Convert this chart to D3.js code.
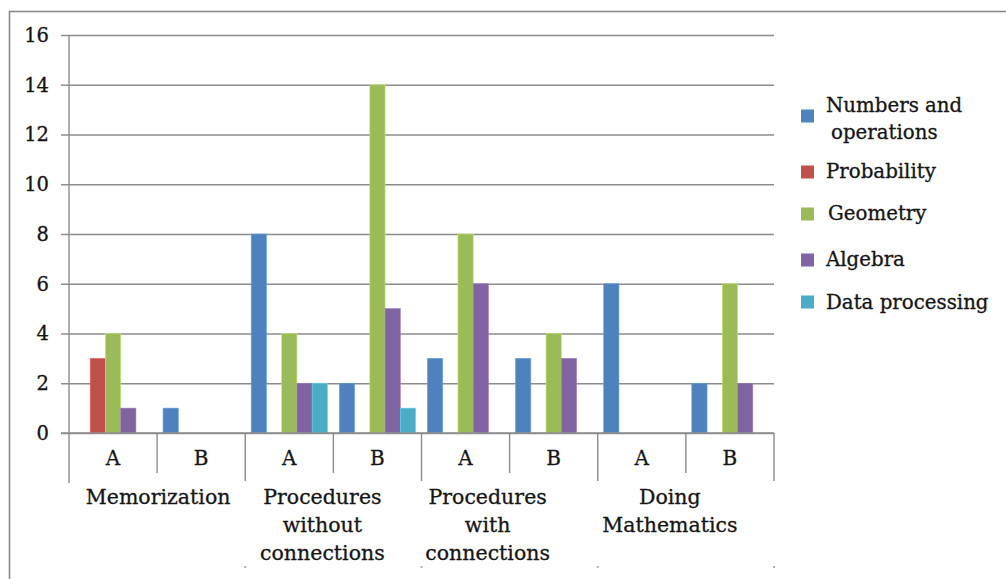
<!DOCTYPE html>
<html>
<head>
<meta charset="utf-8">
<script src="https://cdn.jsdelivr.net/npm/d3@7"></script>
<style>
  html, body { margin: 0; padding: 0; background: #fff; }
  svg { display: block; }
  text { font-family: "DejaVu Serif", "Liberation Serif", serif; fill: #151515; stroke: #151515; stroke-width: 0.3px; }
</style>
</head>
<body>
<svg id="chart" width="1006" height="579"></svg>
<script>
// Cognitive demand levels, each split into two sub-groups (A / B)
const groups = ["Memorization", "Procedures without connections", "Procedures with connections", "Doing Mathematics"];
const groupLines = [["Memorization"], ["Procedures", "without", "connections"], ["Procedures", "with", "connections"], ["Doing", "Mathematics"]];
const subGroups = ["A", "B"];

// Content domains (one bar per domain in every sub-group)
const seriesNames = ["Numbers and operations", "Probability", "Geometry", "Algebra", "Data processing"];
const seriesColors = ["#4F81BD", "#C0504D", "#9BBB59", "#8064A2", "#4BACC6"];

// Values in order: Memorization A, B; Procedures w/o A, B; Procedures with A, B; Doing Math A, B
const numbersOps     = [0, 1, 8, 2, 3, 3, 6, 2];
const probability    = [3, 0, 0, 0, 0, 0, 0, 0];
const geometry       = [4, 0, 4, 14, 8, 4, 0, 6];
const algebra        = [1, 0, 2, 5, 6, 3, 0, 2];
const dataProcessing = [0, 0, 2, 1, 0, 0, 0, 0];
const seriesValues = [numbersOps, probability, geometry, algebra, dataProcessing];

const yTicks = [0, 2, 4, 6, 8, 10, 12, 14, 16];

const svg = d3.select("#chart");
const plot = { left: 69, right: 774, top: 35, bottom: 433 };
const gridColor = "#8c8c8c";

// Outer chart frame (runs off the right and bottom of the view)
svg.append("rect")
  .attr("x", 9.5).attr("y", 11.5)
  .attr("width", 1100).attr("height", 700)
  .attr("fill", "none").attr("stroke", "#8c8c8c").attr("stroke-width", 1.6);

// Flat list of category slots
const slots = [];
groups.forEach((g, gi) => subGroups.forEach(s => slots.push({ group: gi, sub: s, key: g + "|" + s })));

const x0 = d3.scaleBand().domain(slots.map(d => d.key)).range([plot.left, plot.right]).paddingInner(0).paddingOuter(0);
const x1 = d3.scaleBand().domain(seriesNames).range([0, x0.bandwidth()]).paddingOuter(0.39).paddingInner(0);
const y = d3.scaleLinear().domain([0, 16]).range([plot.bottom, plot.top]);

// Horizontal gridlines with ticks and labels
const yAxis = d3.axisLeft(y).tickValues(yTicks).tickSize(-(plot.right - plot.left)).tickPadding(12);
const gy = svg.append("g").attr("transform", `translate(${plot.left},0)`).call(yAxis);
gy.select(".domain").remove();
gy.selectAll(".tick line").attr("stroke", gridColor).attr("stroke-width", 1.4).attr("x1", -8);
gy.selectAll(".tick text")
  .attr("x", -20)
  .style("font-family", "'DejaVu Serif', serif").style("font-size", "19.5px")
  .attr("fill", "#151515").attr("stroke", "#151515").attr("stroke-width", 0.3);

// Vertical axis line
svg.append("line")
  .attr("x1", plot.left).attr("x2", plot.left)
  .attr("y1", plot.top).attr("y2", 483)
  .attr("stroke", gridColor).attr("stroke-width", 1.4);

// Bars
const barData = [];
slots.forEach((slot, i) => seriesNames.forEach((name, si) => {
  barData.push({ slot: slot.key, series: name, value: seriesValues[si][i], color: seriesColors[si] });
}));
svg.append("g").selectAll("rect")
  .data(barData.filter(d => d.value > 0))
  .join("rect")
  .attr("x", d => x0(d.slot) + x1(d.series))
  .attr("y", d => y(d.value))
  .attr("width", x1.bandwidth())
  .attr("height", d => y(0) - y(d.value))
  .attr("fill", d => d.color)
  .attr("stroke", d => d3.color(d.color).brighter(0.6))
  .attr("stroke-width", 0.6);

// Baseline on top of bars
svg.append("line")
  .attr("x1", plot.left - 8).attr("x2", plot.right)
  .attr("y1", y(0)).attr("y2", y(0))
  .attr("stroke", gridColor).attr("stroke-width", 1.4);

// Category dividers below the axis: short between A/B, longer between groups
slots.forEach((slot, i) => {
  if (i === 0) return;
  const xx = x0(slot.key);
  const isGroupEdge = slot.sub === "A";
  svg.append("line")
    .attr("x1", xx).attr("x2", xx)
    .attr("y1", y(0)).attr("y2", isGroupEdge ? 481 : 473)
    .attr("stroke", gridColor).attr("stroke-width", 1.4);
});
svg.append("line")
  .attr("x1", plot.right).attr("x2", plot.right)
  .attr("y1", y(0)).attr("y2", 481)
  .attr("stroke", gridColor).attr("stroke-width", 1.4);

// Small dots under group dividers
[1, 2, 3].map(gi => x0(groups[gi] + "|A")).concat([plot.right]).forEach(xx => {
  svg.append("rect").attr("x", xx - 1).attr("y", 566).attr("width", 2).attr("height", 2).attr("fill", "#b0b0b0");
});

// Sub-group labels
svg.append("g").selectAll("text")
  .data(slots)
  .join("text")
  .attr("x", d => x0(d.key) + x0.bandwidth() / 2)
  .attr("y", 465)
  .attr("text-anchor", "middle")
  .style("font-size", "20px")
  .text(d => d.sub);

// Group labels (wrapped)
const groupShift = [1, -11, -22, -16];
groupLines.forEach((lines, gi) => {
  const cx = (x0(groups[gi] + "|A") + x0(groups[gi] + "|B") + x0.bandwidth()) / 2 + groupShift[gi];
  const t = svg.append("text")
    .attr("x", cx).attr("y", 504)
    .attr("text-anchor", "middle")
    .style("font-size", "20.5px");
  lines.forEach((ln, li) => {
    t.append("tspan").attr("x", cx).attr("dy", li === 0 ? 0 : 28).text(ln);
  });
});

// Legend
const legendRows = [
  { lines: ["Numbers and", "operations"], y: 105, sq: 116, indent: [0, 5] },
  { lines: ["Probability"], y: 171, sq: 172, indent: [0] },
  { lines: ["Geometry"], y: 213, sq: 214, indent: [2] },
  { lines: ["Algebra"], y: 259, sq: 260, indent: [0] },
  { lines: ["Data processing"], y: 302, sq: 302, indent: [0] }
];
const legend = svg.append("g");
legendRows.forEach((row, i) => {
  legend.append("rect")
    .attr("x", 801).attr("y", row.sq - 6.5)
    .attr("width", 13).attr("height", 13)
    .attr("fill", seriesColors[i]);
  row.lines.forEach((ln, li) => {
    legend.append("text")
      .attr("x", 826 + row.indent[li])
      .attr("y", row.y + li * 27)
      .attr("dy", "0.35em")
      .style("font-size", "19.8px")
      .text(ln);
  });
});
</script>
</body>
</html>
